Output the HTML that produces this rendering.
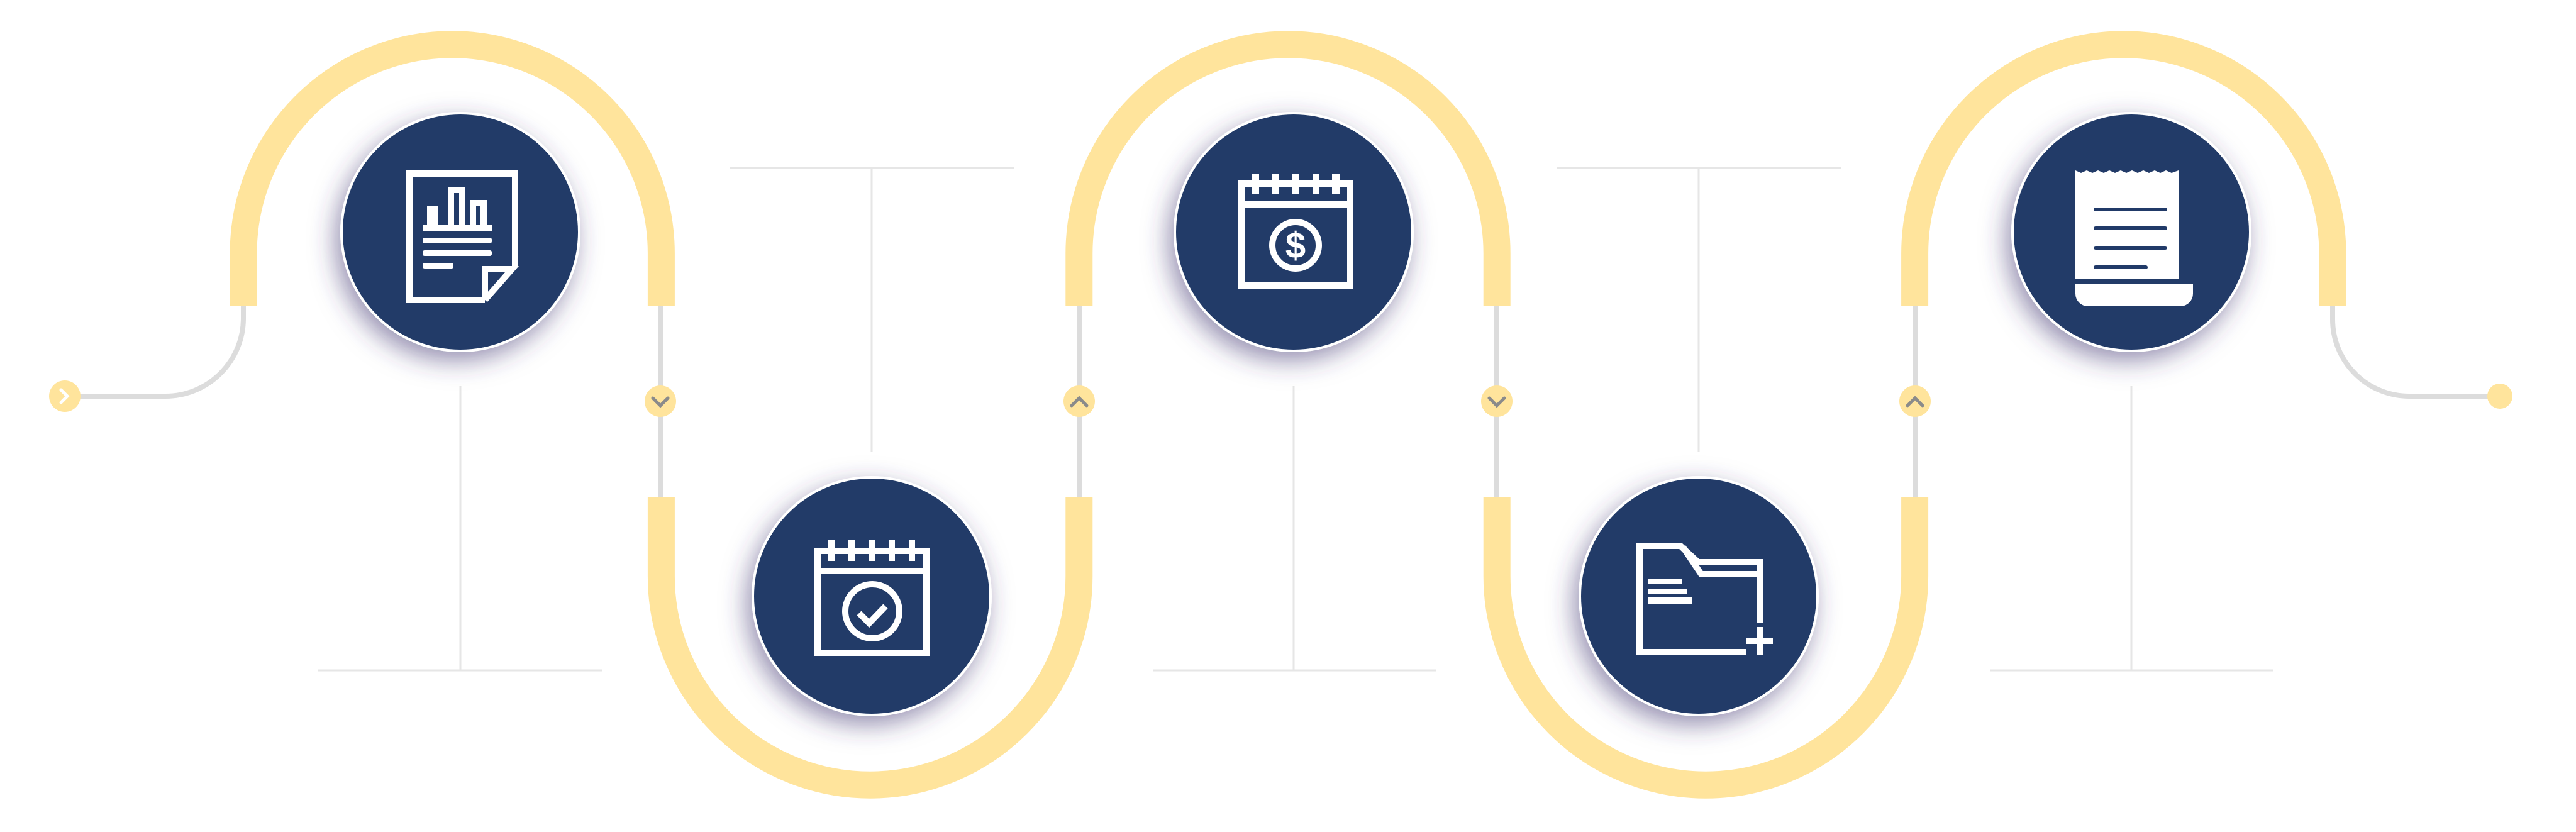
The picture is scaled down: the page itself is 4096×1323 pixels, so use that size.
<!DOCTYPE html>
<html><head><meta charset="utf-8"><style>html,body{margin:0;padding:0;background:#fff}svg{display:block}</style></head>
<body>
<svg width="4096" height="1323" viewBox="0 0 4096 1323" xmlns="http://www.w3.org/2000/svg">
<defs>
<filter id="sh" x="-40%" y="-40%" width="180%" height="180%">
<feDropShadow dx="-8" dy="14" stdDeviation="20" flood-color="#3c3470" flood-opacity="0.55"/>
</filter>
</defs>
<rect width="4096" height="1323" fill="#fff"/>
<!-- thin T lines -->
<g stroke="#e6e6e6" stroke-width="3" fill="none">
<path d="M506 1066H958M732 614V1066"/>
<path d="M1833 1066H2283M2057 614V1066"/>
<path d="M3165 1066H3615M3389 614V1066"/>
<path d="M1160 267H1612M1386 267V718"/>
<path d="M2475 267H2927M2701 267V718"/>
</g>
<!-- gray connectors -->
<g stroke="#dcdcdc" stroke-width="8" fill="none">
<path d="M387 487V506A124 124 0 0 1 263 630H104"/>
<path d="M1051 487V791M1716 487V791M2380 487V791M3045 487V791"/>
<path d="M3709 487V508A122 122 0 0 0 3831 630H3975"/>
</g>
<!-- yellow path -->
<g stroke="#ffe49c" stroke-width="43" fill="none">
<path d="M387 487V403A332.2 332.2 0 0 1 1051.4 403V487"/>
<path d="M1051.4 791V916A332.2 332.2 0 0 0 1715.8 916V791"/>
<path d="M1715.8 487V403A332.2 332.2 0 0 1 2380.2 403V487"/>
<path d="M2380.2 791V916A332.2 332.2 0 0 0 3044.6 916V791"/>
<path d="M3044.6 487V403A332.2 332.2 0 0 1 3709 403V487"/>
</g>
<!-- dots -->
<g fill="#ffe49c">
<circle cx="103" cy="630" r="25"/>
<circle cx="1050" cy="638" r="25"/>
<circle cx="1716" cy="638" r="25"/>
<circle cx="2380" cy="638" r="25"/>
<circle cx="3045" cy="638" r="25"/>
<circle cx="3975" cy="630" r="20"/>
</g>
<path d="M97 620L107 630L97 640" stroke="#fff" stroke-width="5" fill="none" stroke-linecap="round"/>
<g stroke="#8a8a8a" stroke-width="5" fill="none" stroke-linecap="round">
<path d="M1038 633L1050 645L1062 633"/>
<path d="M1704 645L1716 633L1728 645"/>
<path d="M2368 633L2380 645L2392 633"/>
<path d="M3033 645L3045 633L3057 645"/>
</g>
<!-- circles -->
<g fill="#213a68" stroke="#fff" stroke-width="4" filter="url(#sh)">
<circle cx="732" cy="369" r="189"/>
<circle cx="1386" cy="948" r="189"/>
<circle cx="2057" cy="369" r="189"/>
<circle cx="2701" cy="948" r="189"/>
<circle cx="3389" cy="369" r="189"/>
</g>
<!-- icon 1: report -->
<g fill="none" stroke="#fff" stroke-width="10">
<path d="M819 423V276H651V477H771"/>
<path d="M771 477V428H814L771 477"/>
<path d="M684 362V332H692V362M717 362V302H735V362M752 362V323H769V362"/>
</g>
<g fill="#fff">
<rect x="672" y="358" width="110" height="9"/>
<rect x="672" y="378" width="110" height="9" rx="3"/>
<rect x="672" y="398" width="110" height="9" rx="3"/>
<rect x="672" y="418" width="49" height="9" rx="3"/>
</g>
<!-- icon 2: calendar check -->
<g fill="none" stroke="#fff" stroke-width="10">
<rect x="1300" y="876" width="173" height="162"/>
<path d="M1300 908H1473"/>
<circle cx="1387" cy="972" r="43"/>
<path d="M1366 975L1382 991L1408 964"/>
</g>
<g fill="#fff">
<rect x="1317" y="859" width="10" height="33"/><rect x="1349" y="859" width="10" height="33"/><rect x="1381" y="859" width="10" height="33"/><rect x="1413" y="859" width="10" height="33"/><rect x="1445" y="859" width="10" height="33"/>
</g>
<!-- icon 3: calendar dollar -->
<g fill="none" stroke="#fff" stroke-width="10">
<rect x="1974" y="292" width="173" height="162"/>
<path d="M1974 325H2147"/>
<circle cx="2060" cy="390" r="37"/>
</g>
<g fill="#fff">
<rect x="1990" y="277" width="12" height="31"/><rect x="2022" y="277" width="11" height="31"/><rect x="2055" y="277" width="11" height="31"/><rect x="2087" y="277" width="11" height="31"/><rect x="2118" y="277" width="12" height="31"/>
</g>
<text x="2060" y="410" text-anchor="middle" font-family="Liberation Sans, sans-serif" font-weight="bold" font-size="58" fill="#fff">$</text>
<!-- icon 4: folder -->
<g fill="none" stroke="#fff" stroke-width="10">
<path d="M2777 1037H2607V868H2672L2700 894H2798V990"/>
<path d="M2676 870L2705 913H2798"/>
<path d="M2798 997V1042M2776 1019H2819"/>
</g>
<g fill="#fff">
<rect x="2620" y="920" width="55" height="9"/>
<rect x="2620" y="936" width="63" height="9"/>
<rect x="2620" y="950" width="71" height="10"/>
</g>
<!-- icon 5: receipt -->
<path d="M3300 271L3309 275L3318 271L3327 275L3336 271L3345 275L3354 271L3363 275L3372 271L3381 275L3390 271L3399 275L3408 271L3417 275L3426 271L3435 275L3444 271L3453 275L3464 271V444H3300Z" fill="#fff"/>
<g stroke="#213a68" stroke-width="6" stroke-linecap="round">
<path d="M3332 333H3443M3332 363H3443M3332 394H3443M3332 425H3412"/>
</g>
<path d="M3300 451H3487V467A20 20 0 0 1 3467 487H3320A20 20 0 0 1 3300 467Z" fill="#fff"/>
</svg>
</body></html>
